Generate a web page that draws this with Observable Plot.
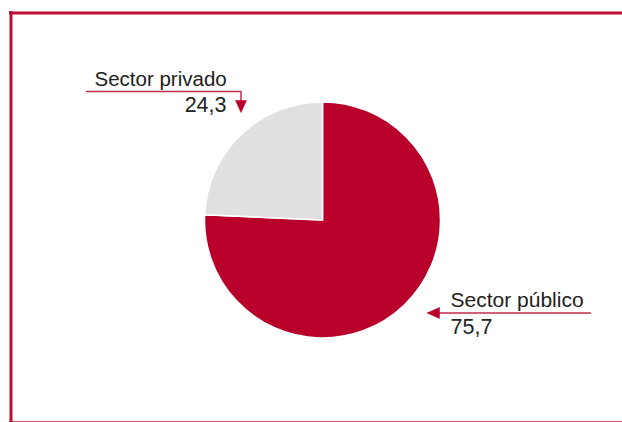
<!DOCTYPE html>
<html>
<head>
<meta charset="utf-8">
<script src="https://cdn.jsdelivr.net/npm/d3@7"></script>
<script src="https://cdn.jsdelivr.net/npm/@observablehq/plot@0.6"></script>
<style>
  html, body { margin: 0; padding: 0; background: #fff; }
  #chart svg { display: block; }
</style>
</head>
<body>
<div id="chart"></div>
<script>
// ---- data ----
const categories = ["Sector público", "Sector privado"];
const values = [75.7, 24.3];
const valueLabels = values.map(v => v.toFixed(1).replace(".", ","));

const data = categories.map((c, i) => ({category: c, value: values[i], label: valueLabels[i]}));

// ---- layout / style ----
const W = 622, H = 422;
const PIE = {cx: 322.5, cy: 220, r: 118};
const RED = "#b8002b";
const BORDER = "#bf0f36";
const LEADER = "#c42a4b";
const FONT = "'Liberation Sans', Arial, sans-serif";
const INK = "#222";

const color = Plot.scale({color: {type: "ordinal", domain: categories, range: [RED, "#e0e0e0"]}});

function pieMark(rows) {
  return (index, scales) => {
    const sx = scales && scales.x ? scales.x : (v => v);
    const sy = scales && scales.y ? scales.y : (v => v);
    const cx = sx(PIE.cx), cy = sy(PIE.cy);
    const r = sx(PIE.cx + PIE.r) - cx;
    const arcs = d3.pie().sort(null).value(d => d.value)(rows);
    const arc = d3.arc().innerRadius(0).outerRadius(r);
    const g = d3.create("svg:g").attr("transform", `translate(${cx},${cy})`);
    g.selectAll("path").data(arcs).join("path")
      .attr("d", arc)
      .attr("fill", d => color.apply(d.data.category))
      .attr("stroke", "#fff")
      .attr("stroke-width", 1.5)
      .attr("stroke-linejoin", "round");
    return g.node();
  };
}

// annotation geometry (layout)
const priv = data.find(d => d.category === "Sector privado");
const pub = data.find(d => d.category === "Sector público");

const leaderPriv = [{x: 86, y: 91}, {x: 240.5, y: 91}, {x: 240.5, y: 101}];
const headPriv = [{x: 235, y: 100}, {x: 246, y: 100}, {x: 240.5, y: 112}, {x: 235, y: 100}];
const leaderPub = [{x: 590, y: 312.5}, {x: 437, y: 312.5}];
const headPub = [{x: 439, y: 307}, {x: 439, y: 318}, {x: 426.5, y: 312.5}, {x: 439, y: 307}];

const chart = Plot.plot({
  width: W,
  height: H,
  margin: 0,
  style: {fontFamily: FONT, background: "#fff", overflow: "visible"},
  x: {domain: [0, W], range: [0, W], axis: null},
  y: {domain: [0, H], range: [0, H], axis: null},
  marks: [
    // frame
    Plot.ruleX([10.5], {y1: 11, y2: 422, stroke: BORDER, strokeWidth: 3}),
    Plot.ruleY([12.5], {x1: 9, x2: W, stroke: BORDER, strokeWidth: 3}),
    Plot.ruleY([421.5], {x1: 9, x2: W, stroke: BORDER, strokeWidth: 1.5}),
    // pie
    pieMark(data),
    // leaders
    Plot.line(leaderPriv, {x: "x", y: "y", stroke: LEADER, strokeWidth: 1.5}),
    Plot.line(headPriv, {x: "x", y: "y", fill: RED, stroke: RED, strokeWidth: 0.5}),
    Plot.line(leaderPub, {x: "x", y: "y", stroke: LEADER, strokeWidth: 1.5}),
    Plot.line(headPub, {x: "x", y: "y", fill: RED, stroke: RED, strokeWidth: 0.5}),
    // labels
    Plot.text([priv], {x: () => 94, y: () => 85.5, text: "category", textAnchor: "start", lineAnchor: "bottom", fontSize: 20.5, fill: INK}),
    Plot.text([priv], {x: () => 226, y: () => 111.5, text: "label", textAnchor: "end", lineAnchor: "bottom", fontSize: 21.5, fill: INK}),
    Plot.text([pub], {x: () => 450, y: () => 306.5, text: "category", textAnchor: "start", lineAnchor: "bottom", fontSize: 21, fill: INK}),
    Plot.text([pub], {x: () => 450, y: () => 333, text: "label", textAnchor: "start", lineAnchor: "bottom", fontSize: 21.5, fill: INK})
  ]
});

document.getElementById("chart").appendChild(chart);
</script>
</body>
</html>
